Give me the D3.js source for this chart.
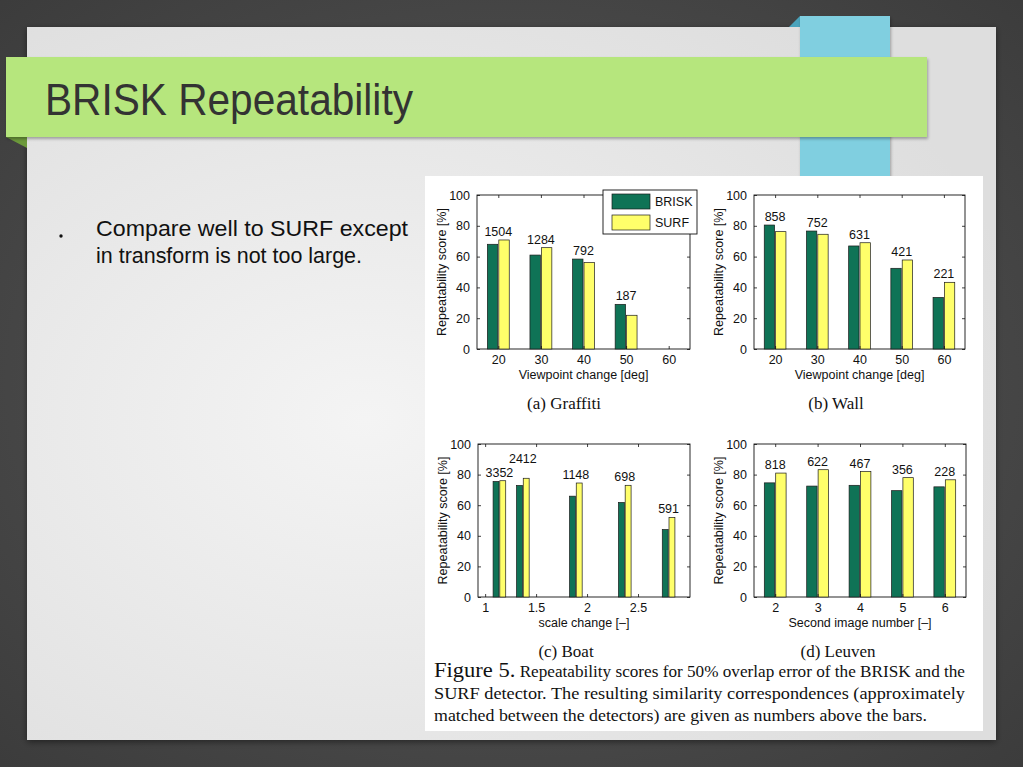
<!DOCTYPE html>
<html>
<head>
<meta charset="utf-8">
<script src="https://cdn.jsdelivr.net/npm/d3@7"></script>
<style>
  html, body { margin: 0; padding: 0; background: #4a4a4a; overflow: hidden; }
  svg { display: block; }
</style>
</head>
<body>
<svg id="slide" width="1023" height="767"></svg>
<script>
// ---------------- data ----------------
const seriesNames = ["BRISK", "SURF"];
const yTickValues = [0, 20, 40, 60, 80, 100];

const graffitiX = [20, 30, 40, 50, 60];
const graffitiBrisk = [68.0, 61.0, 58.4, 29.0, null];
const graffitiSurf = [70.8, 65.8, 56.1, 21.9, null];
const graffitiCounts = ["1504", "1284", "792", "187", null];
const graffitiTicks = [20, 30, 40, 50, 60];

const wallX = [20, 30, 40, 50, 60];
const wallBrisk = [80.5, 76.6, 66.9, 52.4, 33.5];
const wallSurf = [76.2, 74.5, 69.0, 57.8, 43.3];
const wallCounts = ["858", "752", "631", "421", "221"];
const wallTicks = [20, 30, 40, 50, 60];

const boatX = [1.14, 1.37, 1.89, 2.37, 2.8];
const boatBrisk = [75.5, 72.9, 65.9, 61.8, 44.1];
const boatSurf = [76.0, 77.6, 74.5, 73.0, 52.0];
const boatCounts = ["3352", "2412", "1148", "698", "591"];
const boatTicks = [1, 1.5, 2, 2.5];

const leuvenX = [2, 3, 4, 5, 6];
const leuvenBrisk = [74.6, 72.5, 73.0, 69.5, 72.0];
const leuvenSurf = [81.0, 83.2, 82.0, 78.0, 76.6];
const leuvenCounts = ["818", "622", "467", "356", "228"];
const leuvenTicks = [2, 3, 4, 5, 6];

const yTitle = "Repeatability score [%]";
const slideTitle = "BRISK Repeatability";
const bulletLines = ["Compare well to SURF except", "in transform is not too large."];
const captionHead = "Figure 5.";
const captionLines = [
  " Repeatability scores for 50% overlap error of the BRISK and the",
  "SURF detector.  The resulting similarity correspondences (approximately",
  "matched between the detectors) are given as numbers above the bars."
];

// ---------------- styles ----------------
const SANS = "'Liberation Sans', Arial, Helvetica, sans-serif";
const SERIF = "'Liberation Serif', 'Times New Roman', Times, serif";
const C_BRISK = "#0f7356";
const C_SURF = "#ffff6a";
const FS = 12.5;

const svg = d3.select("#slide");
const defs = svg.append("defs");

const bg = defs.append("radialGradient").attr("id", "bgGrad")
  .attr("cx", "50%").attr("cy", "50%").attr("r", "75%");
bg.append("stop").attr("offset", "0%").attr("stop-color", "#5a5a5a");
bg.append("stop").attr("offset", "100%").attr("stop-color", "#3a3a3a");

const pg = defs.append("radialGradient").attr("id", "panelGrad")
  .attr("cx", "35%").attr("cy", "55%").attr("r", "70%");
pg.append("stop").attr("offset", "0%").attr("stop-color", "#f4f4f4");
pg.append("stop").attr("offset", "100%").attr("stop-color", "#dedede");

const sh = defs.append("filter").attr("id", "shadow")
  .attr("x", "-5%").attr("y", "-5%").attr("width", "110%").attr("height", "115%");
sh.append("feDropShadow").attr("dx", 0).attr("dy", 2).attr("stdDeviation", 3)
  .attr("flood-color", "#000").attr("flood-opacity", 0.45);
const sh2 = defs.append("filter").attr("id", "shadow2")
  .attr("x", "-5%").attr("y", "-20%").attr("width", "110%").attr("height", "150%");
sh2.append("feDropShadow").attr("dx", 1).attr("dy", 2).attr("stdDeviation", 1.5)
  .attr("flood-color", "#000").attr("flood-opacity", 0.3);

svg.append("rect").attr("width", 1023).attr("height", 767).attr("fill", "url(#bgGrad)");

// slide panel
svg.append("rect").attr("x", 27).attr("y", 27).attr("width", 969).attr("height", 713)
  .attr("fill", "url(#panelGrad)").attr("filter", "url(#shadow)");

// blue ribbon
svg.append("polygon").attr("points", "789,27 800,16 800,27").attr("fill", "#4aa3bb");
svg.append("rect").attr("x", 800).attr("y", 16).attr("width", 90).attr("height", 161)
  .attr("fill", "#80cfe0").attr("filter", "url(#shadow2)");

// green title band
svg.append("polygon").attr("points", "6,137 27,137 27,148").attr("fill", "#6d9a3c");
svg.append("rect").attr("x", 6).attr("y", 57).attr("width", 921).attr("height", 80)
  .attr("fill", "#b6e67d").attr("filter", "url(#shadow2)");

svg.append("text").attr("x", 45).attr("y", 115)
  .attr("font-family", SANS).attr("font-size", 44).attr("fill", "#333")
  .attr("textLength", 368).attr("lengthAdjust", "spacingAndGlyphs")
  .text(slideTitle);

// bullet
svg.append("circle").attr("cx", 61).attr("cy", 236).attr("r", 1.7).attr("fill", "#111");
const bulletEnds = [408, 362];
bulletLines.forEach((t, i) => {
  svg.append("text").attr("x", 96).attr("y", 236 + i * 27)
    .attr("font-family", SANS).attr("font-size", 22.5).attr("fill", "#111")
    .attr("textLength", bulletEnds[i] - 96).attr("lengthAdjust", "spacingAndGlyphs")
    .text(t);
});

// white figure
svg.append("rect").attr("x", 425).attr("y", 176).attr("width", 558).attr("height", 555)
  .attr("fill", "#ffffff");

// ---------------- panels ----------------
function drawPanel(cfg) {
  const g = svg.append("g");
  const x = d3.scaleLinear().domain(cfg.xDomain).range([cfg.left, cfg.right]);
  const y = d3.scaleLinear().domain([0, 100]).range([cfg.bottom, cfg.top]);

  g.append("rect").attr("x", cfg.left).attr("y", cfg.top)
    .attr("width", cfg.right - cfg.left).attr("height", cfg.bottom - cfg.top)
    .attr("fill", "none").attr("stroke", "#111").attr("stroke-width", 0.9);

  const data = cfg.xs.map((xv, i) => ({ xv, b: cfg.brisk[i], s: cfg.surf[i], c: cfg.counts[i] }));
  const bw = cfg.barW, gap = cfg.gap;
  data.forEach(d => {
    if (d.b != null) {
      g.append("rect").attr("x", x(d.xv - gap - bw)).attr("y", y(d.b))
        .attr("width", x(d.xv - gap) - x(d.xv - gap - bw)).attr("height", y(0) - y(d.b))
        .attr("fill", C_BRISK).attr("stroke", "#1a1a1a").attr("stroke-width", 0.7);
    }
    if (d.s != null) {
      g.append("rect").attr("x", x(d.xv + gap)).attr("y", y(d.s))
        .attr("width", x(d.xv + gap + bw) - x(d.xv + gap)).attr("height", y(0) - y(d.s))
        .attr("fill", C_SURF).attr("stroke", "#1a1a1a").attr("stroke-width", 0.7);
    }
  });

  const tl = 3;
  const ax = (gen, tr) => g.append("g").attr("transform", tr).call(gen)
    .call(s => s.select(".domain").remove());
  const left = ax(d3.axisLeft(y).tickValues(yTickValues).tickSize(-tl).tickPadding(7), `translate(${cfg.left},0)`);
  const right = ax(d3.axisRight(y).tickValues(yTickValues).tickSize(-tl).tickFormat(""), `translate(${cfg.right},0)`);
  const bot = ax(d3.axisBottom(x).tickValues(cfg.ticks).tickSize(-tl).tickPadding(6)
    .tickFormat(d3.format("")), `translate(0,${cfg.bottom})`);
  const top = ax(d3.axisTop(x).tickValues(cfg.ticks).tickSize(-tl).tickFormat(""), `translate(0,${cfg.top})`);
  [left, right, bot, top].forEach(a => {
    a.selectAll("line").attr("stroke", "#111").attr("stroke-width", 0.8);
    a.selectAll("text").attr("font-family", SANS).attr("font-size", FS).attr("fill", "#111");
  });

  // count labels; a label that would collide with its neighbour is lifted
  let prev = null;
  data.forEach(d => {
    if (d.c == null) return;
    const m = Math.max(d.b ?? 0, d.s ?? 0);
    let yy = y(m) - 4;
    const t = g.append("text").attr("x", x(d.xv)).attr("y", yy)
      .attr("text-anchor", "middle").attr("font-family", SANS).attr("font-size", FS)
      .attr("fill", "#111").text(d.c);
    const bb = t.node().getBBox();
    if (prev && bb.x < prev.x + prev.width && Math.abs(yy - prev.base) < 14) {
      yy = prev.base - 14;
      t.attr("y", yy);
    }
    prev = { x: bb.x, width: bb.width, base: yy };
  });

  g.append("text").attr("x", (cfg.left + cfg.right) / 2).attr("y", cfg.bottom + 30)
    .attr("text-anchor", "middle").attr("font-family", SANS).attr("font-size", FS)
    .attr("fill", "#111").text(cfg.xTitle);
  g.append("text").attr("transform", `translate(${cfg.left - 31},${(cfg.top + cfg.bottom) / 2}) rotate(-90)`)
    .attr("text-anchor", "middle").attr("font-family", SANS).attr("font-size", FS)
    .attr("fill", "#111").text(yTitle);

  g.append("text").attr("x", cfg.capX).attr("y", cfg.bottom + 60)
    .attr("text-anchor", "middle").attr("font-family", SERIF).attr("font-size", 17)
    .attr("fill", "#111").text(cfg.caption);

  if (cfg.legend) {
    const lg = g.append("g");
    lg.append("rect").attr("x", 603).attr("y", 190).attr("width", 94).attr("height", 44)
      .attr("fill", "#fff").attr("stroke", "#111").attr("stroke-width", 0.9);
    [C_BRISK, C_SURF].forEach((c, i) => {
      lg.append("rect").attr("x", 612).attr("y", 194 + i * 21).attr("width", 38).attr("height", 15)
        .attr("fill", c).attr("stroke", "#1a1a1a").attr("stroke-width", 0.7);
      lg.append("text").attr("x", 655).attr("y", 206 + i * 21)
        .attr("font-family", SANS).attr("font-size", FS).attr("fill", "#111").text(seriesNames[i]);
    });
  }
}

drawPanel({ left: 477, right: 690, top: 195, bottom: 349, xDomain: [15, 65],
  xs: graffitiX, brisk: graffitiBrisk, surf: graffitiSurf, counts: graffitiCounts,
  ticks: graffitiTicks, barW: 2.45, gap: 0.12, xTitle: "Viewpoint change [deg]",
  caption: "(a) Graffiti", capX: 564, legend: true });

drawPanel({ left: 754, right: 965, top: 195, bottom: 349, xDomain: [15, 65],
  xs: wallX, brisk: wallBrisk, surf: wallSurf, counts: wallCounts,
  ticks: wallTicks, barW: 2.45, gap: 0.12, xTitle: "Viewpoint change [deg]",
  caption: "(b) Wall", capX: 836, legend: false });

drawPanel({ left: 478, right: 690, top: 444, bottom: 597, xDomain: [0.93, 3.01],
  xs: boatX, brisk: boatBrisk, surf: boatSurf, counts: boatCounts,
  ticks: boatTicks, barW: 0.058, gap: 0.004, xTitle: "scale change [–]",
  caption: "(c) Boat", capX: 566, legend: false });

drawPanel({ left: 754, right: 966, top: 444, bottom: 597, xDomain: [1.5, 6.5],
  xs: leuvenX, brisk: leuvenBrisk, surf: leuvenSurf, counts: leuvenCounts,
  ticks: leuvenTicks, barW: 0.245, gap: 0.012, xTitle: "Second image number [–]",
  caption: "(d) Leuven", capX: 838, legend: false });

// ---------------- figure caption ----------------
const capEnds = [965, 965, 927];
const capBase = [677, 699, 721];
captionLines.forEach((t, i) => {
  const tx = svg.append("text").attr("x", 434).attr("y", capBase[i])
    .attr("font-family", SERIF).attr("font-size", 16).attr("fill", "#111")
    .attr("textLength", capEnds[i] - 434).attr("lengthAdjust", "spacingAndGlyphs");
  if (i === 0) tx.append("tspan").attr("font-size", 21).text(captionHead);
  tx.append("tspan").text(t);
});
</script>
</body>
</html>
